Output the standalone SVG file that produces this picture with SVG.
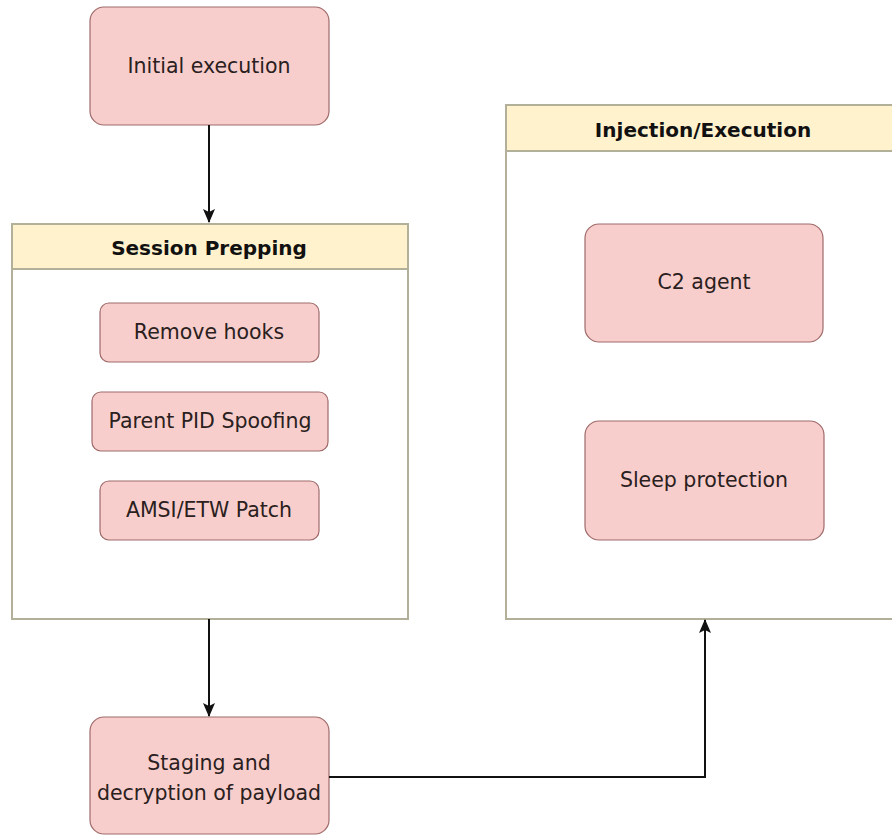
<svg xmlns="http://www.w3.org/2000/svg" width="892" height="836" viewBox="0 0 892 836">
<style>
.node{fill:#f8cecc;stroke:#9e6a6a;stroke-width:1.2}
.cont{fill:#ffffff;stroke:#b3b09a;stroke-width:2}
.head{fill:#fff2cc;stroke:#b3b09a;stroke-width:2}
.lbl{font-family:"DejaVu Sans","Liberation Sans",sans-serif;font-size:20.5px;fill:#2a2020;text-anchor:middle}
.hd{font-family:"DejaVu Sans","Liberation Sans",sans-serif;font-size:20px;font-weight:bold;fill:#111;text-anchor:middle}
.edge{fill:none;stroke:#111;stroke-width:2}
</style>
<defs>
<marker id="arr" markerWidth="14" markerHeight="12" refX="13" refY="6" orient="auto" markerUnits="userSpaceOnUse">
<path d="M0,0 L14,6 L0,12 L3,6 Z" fill="#111"/>
</marker>
</defs>
<rect width="892" height="836" fill="#ffffff"/>
<g id="session-prepping">
<rect class="cont" x="12" y="224" width="396" height="395"/>
<rect class="head" x="12" y="224" width="396" height="45"/>
<text class="hd" x="209" y="255">Session Prepping</text>
</g>
<g id="injection-execution">
<rect class="cont" x="506" y="105" width="392" height="514"/>
<rect class="head" x="506" y="105" width="392" height="46"/>
<text class="hd" x="703" y="137">Injection/Execution</text>
</g>
<g id="initial-execution">
<rect class="node" x="90" y="7" width="239" height="118" rx="14"/>
<text class="lbl" x="209" y="73">Initial execution</text>
</g>
<g id="remove-hooks">
<rect class="node" x="100" y="303" width="219" height="59" rx="9"/>
<text class="lbl" x="209" y="339">Remove hooks</text>
</g>
<g id="parent-pid-spoofing">
<rect class="node" x="92" y="392" width="236" height="59" rx="9"/>
<text class="lbl" x="210" y="428">Parent PID Spoofing</text>
</g>
<g id="amsi-etw-patch">
<rect class="node" x="100" y="481" width="219" height="59" rx="9"/>
<text class="lbl" x="209" y="517">AMSI/ETW Patch</text>
</g>
<g id="c2-agent">
<rect class="node" x="585" y="224" width="238" height="118" rx="14"/>
<text class="lbl" x="704" y="289">C2 agent</text>
</g>
<g id="sleep-protection">
<rect class="node" x="585" y="421" width="239" height="119" rx="14"/>
<text class="lbl" x="704" y="487">Sleep protection</text>
</g>
<g id="staging">
<rect class="node" x="90" y="717" width="239" height="117" rx="14"/>
<text class="lbl" x="209" y="770">Staging and</text>
<text class="lbl" x="209" y="800">decryption of payload</text>
</g>
<g id="connectors">
<path class="edge" d="M209,125 L209,222" marker-end="url(#arr)"/>
<path class="edge" d="M209,619 L209,716" marker-end="url(#arr)"/>
<path class="edge" d="M329,777 L705,777 L705,620" marker-end="url(#arr)"/>
</g>
</svg>
